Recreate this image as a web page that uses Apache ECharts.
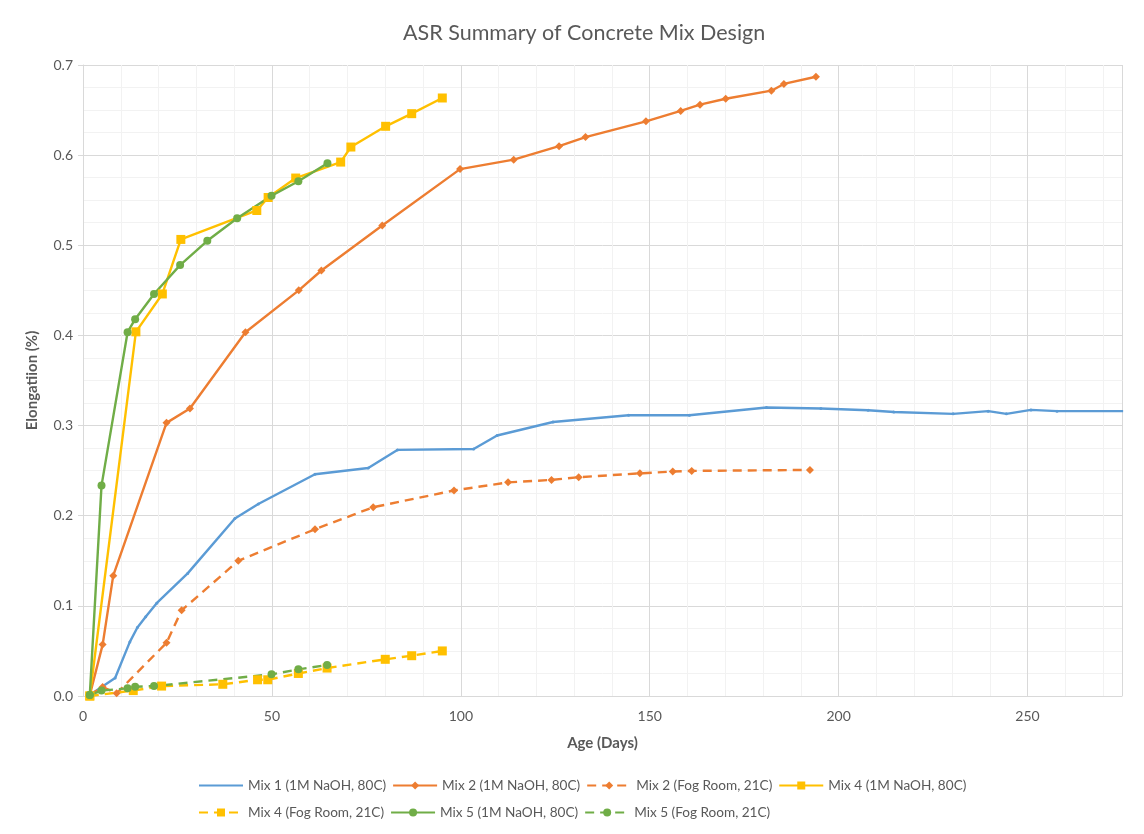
<!DOCTYPE html>
<html>
<head>
<meta charset="utf-8">
<script src="https://cdn.jsdelivr.net/npm/echarts@6/dist/echarts.min.js"></script>
<style>
html,body{margin:0;padding:0;background:#fff;}
#chart{width:1144px;height:834px;}
</style>
</head>
<body>
<div id="chart"></div>
<script>
// ---- data (Age in days, Elongation %) ----
const titleText = "ASR Summary of Concrete Mix Design";
const xAxisName = "Age (Days)";
const yAxisName = "Elongatiion (%)";

const mix1NaOH_x = [1.8, 8.5, 12.4, 14.4, 16.6, 19.5, 27.7, 40.2, 46.4, 61.4, 75.5, 83.2, 103.4, 109.6, 124.4, 144.4, 160.5, 180.9, 195.3, 207.8, 214.6, 230.3, 239.6, 244.4, 250.9, 257.8, 275.3];
const mix1NaOH_y = [0.001, 0.020, 0.060, 0.076, 0.088, 0.103, 0.136, 0.197, 0.213, 0.246, 0.253, 0.273, 0.274, 0.289, 0.304, 0.3115, 0.3115, 0.320, 0.319, 0.317, 0.315, 0.313, 0.316, 0.313, 0.3174, 0.316, 0.316];

const mix2NaOH_x = [1.8, 5.2, 8.0, 22.1, 28.3, 43.0, 57.1, 63.1, 79.2, 99.8, 114.0, 126.0, 133.0, 149.0, 158.2, 163.3, 170.1, 182.2, 185.5, 194.0];
const mix2NaOH_y = [0.001, 0.057, 0.1335, 0.303, 0.319, 0.4036, 0.450, 0.472, 0.522, 0.5845, 0.595, 0.610, 0.620, 0.6375, 0.649, 0.656, 0.6626, 0.6715, 0.679, 0.687];

const mix2Fog_x = [1.8, 5.2, 8.9, 22.1, 26.1, 41.1, 61.4, 76.8, 98.2, 112.5, 124.0, 131.2, 147.4, 156.1, 161.1, 192.4];
const mix2Fog_y = [0.001, 0.010, 0.003, 0.059, 0.095, 0.150, 0.185, 0.2094, 0.228, 0.237, 0.2397, 0.2427, 0.247, 0.249, 0.2497, 0.2508];

const mix4NaOH_x = [1.8, 14.0, 21.0, 25.9, 46.0, 49.0, 56.3, 68.2, 70.9, 80.1, 87.0, 95.1];
const mix4NaOH_y = [0.0, 0.404, 0.446, 0.5065, 0.5386, 0.553, 0.5746, 0.5923, 0.609, 0.632, 0.646, 0.6634];

const mix4Fog_x = [1.8, 13.3, 20.8, 37.0, 46.2, 48.9, 57.0, 64.6, 80.0, 87.0, 95.1];
const mix4Fog_y = [0.0, 0.006, 0.011, 0.013, 0.018, 0.018, 0.025, 0.031, 0.0407, 0.0447, 0.050];

const mix5NaOH_x = [1.8, 4.9, 11.8, 13.8, 18.8, 25.7, 32.9, 40.8, 49.9, 57.0, 64.7];
const mix5NaOH_y = [0.001, 0.2334, 0.4036, 0.418, 0.446, 0.478, 0.505, 0.530, 0.555, 0.571, 0.591];

const mix5Fog_x = [1.8, 4.9, 11.8, 13.8, 18.8, 49.9, 57.0, 64.6];
const mix5Fog_y = [0.001, 0.006, 0.0085, 0.0103, 0.011, 0.024, 0.0296, 0.0344];

const seriesNames = [
  "Mix 1 (1M NaOH, 80C)",
  "Mix 2 (1M NaOH, 80C)",
  "Mix 2 (Fog Room, 21C)",
  "Mix 4 (1M NaOH, 80C)",
  "Mix 4 (Fog Room, 21C)",
  "Mix 5 (1M NaOH, 80C)",
  "Mix 5 (Fog Room, 21C)"
];

// ---- build ----
const zip = (xs, ys) => xs.map((x, i) => [x, ys[i]]);
const BLUE = '#5B9BD5', ORANGE = '#ED7D31', YELLOW = '#FFC000', GREEN = '#70AD47';
const FONT = 'Lato, "Open Sans", sans-serif';

function mk(name, data, color, symbol, size, dashed) {
  return {
    name: name,
    type: 'line',
    data: data,
    symbol: symbol,
    symbolSize: size,
    showSymbol: true,
    itemStyle: { color: color, borderWidth: 0 },
    lineStyle: { color: color, width: 2.4, type: dashed ? [9, 6] : 'solid' },
    emphasis: { disabled: true },
    animation: false
  };
}

const series = [
  mk(seriesNames[0], zip(mix1NaOH_x, mix1NaOH_y), BLUE, 'circle', 3, false),
  mk(seriesNames[1], zip(mix2NaOH_x, mix2NaOH_y), ORANGE, 'diamond', [8, 8], false),
  mk(seriesNames[2], zip(mix2Fog_x, mix2Fog_y), ORANGE, 'diamond', [8, 8], true),
  mk(seriesNames[3], zip(mix4NaOH_x, mix4NaOH_y), YELLOW, 'rect', 9, false),
  mk(seriesNames[4], zip(mix4Fog_x, mix4Fog_y), YELLOW, 'rect', 9, true),
  mk(seriesNames[5], zip(mix5NaOH_x, mix5NaOH_y), GREEN, 'circle', 8, false),
  mk(seriesNames[6], zip(mix5Fog_x, mix5Fog_y), GREEN, 'circle', 8, true)
];

const legendData = seriesNames.map((n, i) => i === 0 ? { name: n, itemStyle: { opacity: 0 } } : { name: n });

const chart = echarts.init(document.getElementById('chart'), null, { renderer: 'canvas' });
chart.setOption({
  backgroundColor: '#fff',
  animation: false,
  title: {
    text: titleText,
    left: 398,
    top: 17,
    textStyle: { fontFamily: FONT, fontSize: 21.5, fontWeight: 'normal', color: '#595959' }
  },
  grid: { left: 83, right: 22, top: 65, bottom: 138, containLabel: false },
  legend: {
    data: legendData,
    left: 193,
    top: 770,
    width: 800,
    itemWidth: 44,
    itemHeight: 10,
    itemGap: 6,
    textStyle: { fontFamily: FONT, fontSize: 13.6, color: '#595959', lineHeight: 21 }
  },
  xAxis: {
    type: 'value',
    min: 0,
    max: 275,
    interval: 50,
    name: xAxisName,
    nameLocation: 'middle',
    nameGap: 40,
    nameTextStyle: { fontFamily: FONT, fontSize: 15, fontWeight: 'bold', color: '#595959' },
    axisLine: { show: true, lineStyle: { color: '#D9D9D9', width: 1 } },
    axisTick: { show: false },
    axisLabel: { fontFamily: FONT, fontSize: 14, color: '#595959', margin: 13, showMaxLabel: false },
    splitLine: { show: true, lineStyle: { color: '#D9D9D9', width: 1 } },
    minorTick: { show: false, splitNumber: 5 },
    minorSplitLine: { show: true, lineStyle: { color: '#F2F2F2', width: 1 } }
  },
  yAxis: {
    type: 'value',
    min: 0,
    max: 0.7,
    interval: 0.1,
    name: yAxisName,
    nameLocation: 'middle',
    nameGap: 43,
    nameTextStyle: { fontFamily: FONT, fontSize: 15, fontWeight: 'bold', color: '#595959' },
    axisLine: { show: true, lineStyle: { color: '#D9D9D9', width: 1 } },
    axisTick: { show: true, length: 5, lineStyle: { color: '#D9D9D9' } },
    axisLabel: { fontFamily: FONT, fontSize: 14, color: '#595959', margin: 10, formatter: v => v.toFixed(1) },
    splitLine: { show: true, lineStyle: { color: '#D9D9D9', width: 1 } },
    minorTick: { show: false, splitNumber: 4 },
    minorSplitLine: { show: true, lineStyle: { color: '#F2F2F2', width: 1 } }
  },
  series: series
});
</script>
</body>
</html>
